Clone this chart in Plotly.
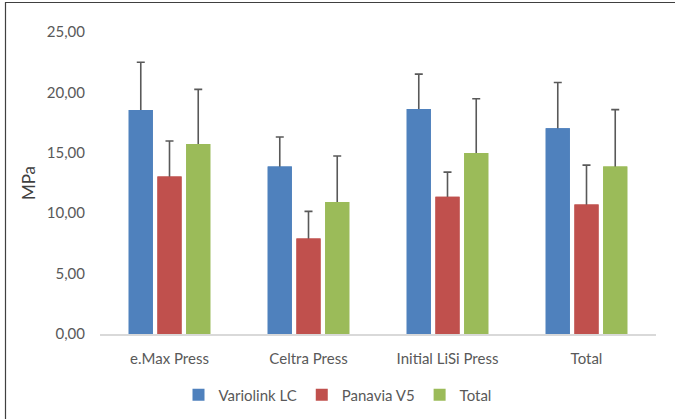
import plotly.graph_objects as go

categories = ["e.Max Press", "Celtra Press", "Initial LiSi Press", "Total"]
series_names = ["Variolink LC", "Panavia V5", "Total"]
variolink_mean = [18.54, 13.86, 18.62, 17.03]
variolink_sd = [3.96, 2.45, 2.89, 3.79]
panavia_mean = [13.04, 7.90, 11.36, 10.73]
panavia_sd = [2.94, 2.25, 2.04, 3.25]
total_mean = [15.73, 10.92, 14.99, 13.86]
total_sd = [4.52, 3.82, 4.48, 4.71]
y_ticks = [0, 5, 10, 15, 20, 25]

colors = ["#4F81BD", "#C0504D", "#9BBB59"]
means = [variolink_mean, panavia_mean, total_mean]
sds = [variolink_sd, panavia_sd, total_sd]

FONT = "Lato"
TXT = "#595959"

fig = go.Figure()
for i, (name, m, s, c) in enumerate(zip(series_names, means, sds, colors)):
    fig.add_trace(go.Bar(
        x=categories, y=m, name=name, offsetgroup=str(i),
        marker=dict(color=c, line=dict(width=0)),
        error_y=dict(type="data", symmetric=True, array=s,
                     color="#595959", thickness=1.6, width=4),
    ))
# same bars again, without error bars, to hide the lower half of each error bar
for i, (name, m, c) in enumerate(zip(series_names, means, colors)):
    fig.add_trace(go.Bar(
        x=categories, y=m, name=name, offsetgroup=str(i), showlegend=False,
        marker=dict(color=c, line=dict(width=0)), hoverinfo="skip",
    ))

W, H = 675, 419
L, R, T, B = 100, 19, 32, 85
pw, ph = W - L - R, H - T - B

fig.update_layout(
    width=W, height=H,
    margin=dict(l=L, r=R, t=T, b=B, pad=0),
    paper_bgcolor="white", plot_bgcolor="white",
    separators=",.",
    barmode="group", bargap=0.38, bargroupgap=0.16,
    font=dict(family=FONT, color=TXT, size=15),
    showlegend=True,
    legend=dict(orientation="h", xref="container", yref="container",
                x=0.5, xanchor="center",
                y=1 - 395 / H, yanchor="middle",
                font=dict(family=FONT, size=15, color=TXT),
                itemwidth=30, traceorder="normal"),
    xaxis=dict(showline=True, linecolor="#D9D9D9", linewidth=1.5,
               ticks="", ticklabelstandoff=10,
               tickfont=dict(family=FONT, size=15, color=TXT),
               showgrid=False, automargin=False),
    yaxis=dict(range=[0, 25], tickvals=y_ticks, tickformat=".2f",
               showgrid=False, showline=False, zeroline=False,
               ticks="", ticklabelstandoff=14, automargin=False,
               tickfont=dict(family=FONT, size=15, color=TXT),
               title=dict(text="MPa", standoff=6,
                          font=dict(family=FONT, size=17, color="#404040"))),
)

# chart area border (top and left edges visible)
x0 = (5.5 - L) / pw
x1 = (W + 10 - L) / pw
y_top = 1 + (T - 2.5) / ph
y_bot = -(B + 10) / ph
fig.add_shape(type="path", xref="paper", yref="paper",
              path=f"M {x0},{y_bot} L {x0},{y_top} L {x1},{y_top}",
              line=dict(color="#404040", width=1.2), layer="above")

fig.write_html("out.html",
               config={"displayModeBar": False},
               post_script="document.body.style.margin='0';"
                           "document.body.style.overflow='hidden';")
